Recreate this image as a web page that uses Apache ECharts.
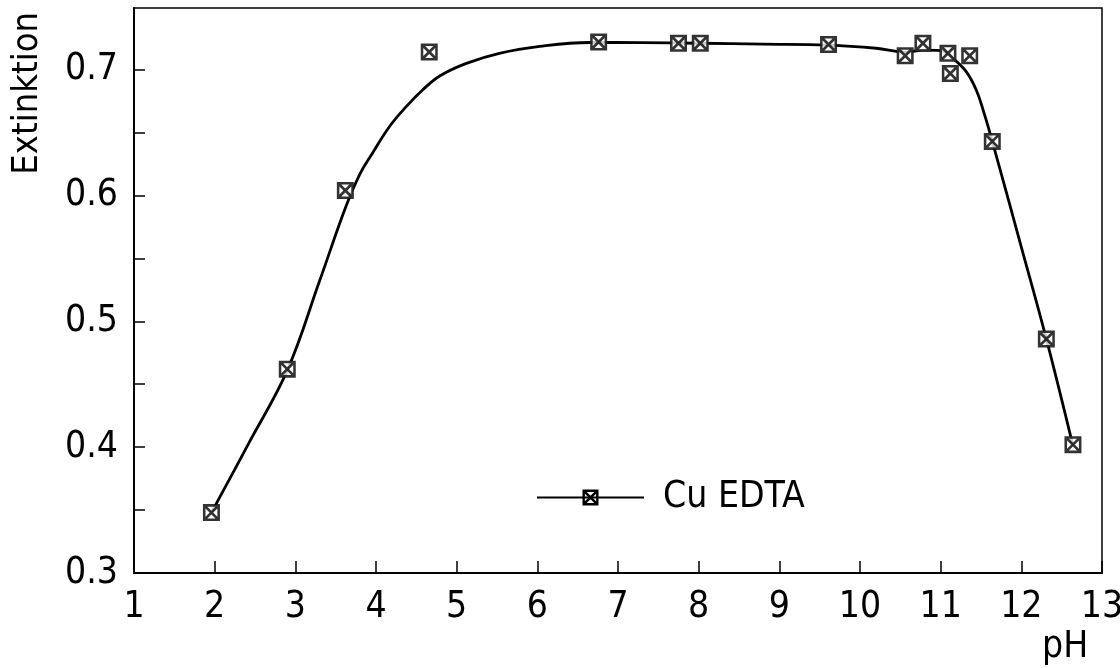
<!DOCTYPE html>
<html>
<head>
<meta charset="utf-8">
<script src="https://cdn.jsdelivr.net/npm/echarts@6/dist/echarts.min.js"></script>
<style>
html,body{margin:0;padding:0;background:#fff;}
#chart{width:1120px;height:668px;}
</style>
</head>
<body>
<div id="chart"></div>
<script>
// Measured points (pH, Extinktion)
const phMeasured  = [1.96, 2.90, 3.62, 4.66, 6.76, 7.75, 8.02, 9.61, 10.56, 10.78, 11.09, 11.12, 11.36, 11.64, 12.31, 12.64];
const extMeasured = [0.348, 0.462, 0.604, 0.714, 0.722, 0.721, 0.721, 0.720, 0.711, 0.721, 0.713, 0.697, 0.711, 0.643, 0.486, 0.402];

// Hand-drawn fitted curve
const phCurve  = [1.96, 2.43, 2.90, 3.30, 3.62, 3.80, 3.96, 4.17, 4.38, 4.58, 4.79, 5.12, 5.53, 6.03, 6.65, 7.3, 8.0, 8.8, 9.6, 10.2, 10.56, 10.8, 11.0, 11.15, 11.31, 11.44, 11.54, 11.64, 12.0, 12.31, 12.64];
const extCurve = [0.348, 0.404, 0.461, 0.532, 0.590, 0.617, 0.634, 0.655, 0.671, 0.684, 0.695, 0.705, 0.713, 0.7185, 0.7216, 0.7215, 0.721, 0.7203, 0.7195, 0.717, 0.714, 0.7155, 0.7152, 0.709, 0.699, 0.684, 0.665, 0.643, 0.559, 0.486, 0.401];

const xTicks = [1,2,3,4,5,6,7,8,9,10,11,12,13];
const seriesName = 'Cu EDTA';
const xName = 'pH';
const yName = 'Extinktion';

const FONT = "'Liberation Sans Narrow','DejaVu Sans Condensed','Arial Narrow',sans-serif";
const markerPath = 'path://M0,0L16,0L16,16L0,16Z M2.4,2.4L2.4,13.6L13.6,13.6L13.6,2.4Z ' +
  'M2.4,2.4L4.2,2.4L13.6,11.8L13.6,13.6L11.8,13.6L2.4,4.2Z ' +
  'M13.6,2.4L13.6,4.2L4.2,13.6L2.4,13.6L2.4,11.8L11.8,2.4Z';

const chart = echarts.init(document.getElementById('chart'), null, {renderer:'canvas'});
const curveData = phCurve.map((x,i)=>[x, extCurve[i]]);
const pointData = phMeasured.map((x,i)=>[x, extMeasured[i]]);

chart.setOption({
  animation:false,
  backgroundColor:'#fff',
  textStyle:{fontFamily:FONT, color:'#000'},
  grid:{left:134, right:18, top:8, bottom:95, show:true, borderColor:'#000', borderWidth:1.5,
        containLabel:false, outerBoundsMode:'none'},
  legend:{
    data:[seriesName],
    left:536, top:479, padding:0,
    itemWidth:107, itemHeight:20,
    textStyle:{fontFamily:FONT, fontSize:37, color:'#000', padding:[0,0,0,14]},
    selectedMode:false
  },
  xAxis:{
    type:'value', min:xTicks[0], max:xTicks[xTicks.length-1], interval:1,
    name:xName, nameLocation:'end', nameGap:-60, nameMoveOverlap:false,
    nameTextStyle:{fontFamily:FONT, fontSize:37, color:'#000', verticalAlign:'top', padding:[56,0,0,0]},
    axisLine:{lineStyle:{color:'#000', width:2}},
    axisTick:{inside:true, length:12, lineStyle:{color:'#000', width:1.5}},
    axisLabel:{fontFamily:FONT, fontSize:37, color:'#000', margin:16},
    splitLine:{show:false}
  },
  yAxis:{
    type:'value', min:0.3, max:0.749, interval:0.05,
    name:yName, nameLocation:'end', nameRotate:90, nameGap:-4, nameMoveOverlap:false,
    nameTextStyle:{fontFamily:FONT, fontSize:36, color:'#000', align:'right', verticalAlign:'bottom', padding:[0,0,88,0]},
    axisLine:{lineStyle:{color:'#000', width:2}},
    axisTick:{inside:true, length:11, lineStyle:{color:'#000', width:1.5}},
    axisLabel:{fontFamily:FONT, fontSize:37, color:'#000', margin:16, showMaxLabel:false,
      formatter:function(v){ const r=Math.round(v*100); return (r%10===0)? (r/100).toFixed(1) : ''; }},
    splitLine:{show:false}
  },
  series:[
    {
      name:seriesName, type:'line', data:curveData,
      smooth:0.4,
      symbol:markerPath, symbolSize:16, showSymbol:false,
      itemStyle:{color:'#000'},
      lineStyle:{color:'#000', width:2.8},
      z:2
    },
    {
      name:'bg', type:'scatter', data:pointData,
      symbol:'rect', symbolSize:16, itemStyle:{color:'#fff'},
      z:3, silent:true
    },
    {
      name:'pts', type:'scatter', data:pointData,
      symbol:markerPath, symbolSize:17, itemStyle:{color:'#000'},
      z:4
    }
  ]
});
</script>
</body>
</html>
